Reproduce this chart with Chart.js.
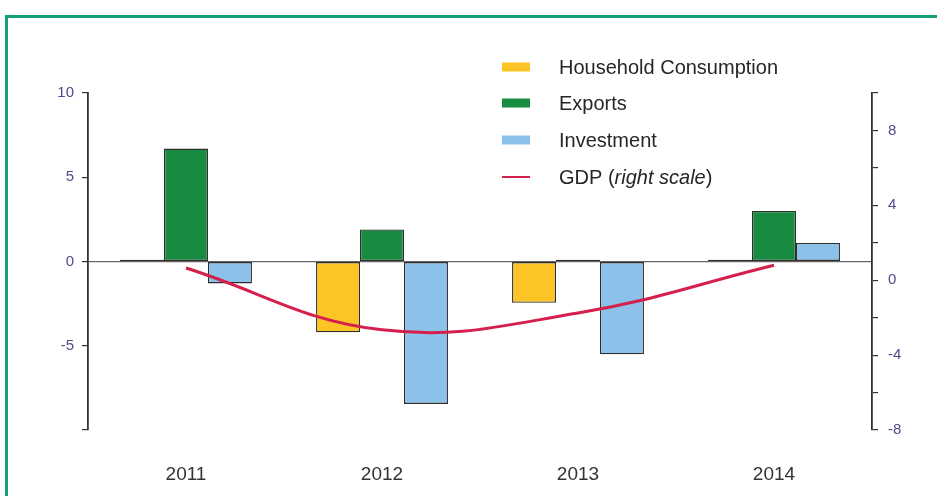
<!DOCTYPE html>
<html>
<head>
<meta charset="utf-8">
<script src="https://cdn.jsdelivr.net/npm/chart.js@4.4.1/dist/chart.umd.min.js"></script>
<style>
  html, body { margin: 0; padding: 0; background: #fff; overflow: hidden; }
  #wrap { position: relative; width: 937px; height: 496px; }
  #frame { position: absolute; left: 5px; top: 15px; width: 1000px; height: 600px;
           border: 3px solid #17a07d; box-sizing: border-box; }
  canvas { position: absolute; left: 0; top: 0; }
</style>
</head>
<body>
<div id="wrap">
  <div id="frame"></div>
  <canvas id="c" width="937" height="496"></canvas>
</div>
<script>
const categories = ['2011', '2012', '2013', '2014'];
const householdConsumption = [0.1, -4.2, -2.45, 0.1];
const exportsData = [6.7, 1.9, 0.1, 3.0];
const investment = [-1.3, -8.45, -5.5, 1.1];
const gdp = [0.65, -2.65, -1.75, 0.8];
const leftTickLabels = [10, 5, 0, -5];
const rightTickLabels = [8, 4, 0, -4, -8];

const seriesNames = ['Household Consumption', 'Exports', 'Investment', 'GDP'];
const colors = { household: '#fdc425', exports: '#178b3f', investment: '#8cc1e9', gdp: '#d51f4c' };

const FONT = "'Liberation Sans', Arial, sans-serif";
const tickColor = '#56478a';

const legendPlugin = {
  id: 'customLegend',
  afterDraw(chart) {
    const ctx = chart.ctx;
    ctx.save();
    const x0 = 502, xt = 559;
    const rows = [67, 103, 140, 177];
    const items = [
      { type: 'box', color: colors.household, text: [{t: 'Household Consumption'}] },
      { type: 'box', color: colors.exports, text: [{t: 'Exports'}] },
      { type: 'box', color: colors.investment, text: [{t: 'Investment'}] },
      { type: 'line', color: colors.gdp, text: [{t: 'GDP ('}, {t: 'right scale', i: true}, {t: ')'}] }
    ];
    ctx.textBaseline = 'middle';
    items.forEach((it, k) => {
      const y = rows[k];
      if (it.type === 'box') {
        ctx.fillStyle = it.color;
        ctx.fillRect(x0, y - 4.5, 28, 9);
      } else {
        ctx.strokeStyle = it.color;
        ctx.lineWidth = 2;
        ctx.beginPath(); ctx.moveTo(x0, y); ctx.lineTo(x0 + 28, y); ctx.stroke();
      }
      let x = xt;
      ctx.fillStyle = '#262626';
      it.text.forEach(part => {
        ctx.font = (part.i ? 'italic ' : '') + '20px ' + FONT;
        ctx.fillText(part.t, x, y + 1);
        x += ctx.measureText(part.t).width;
      });
    });
    ctx.restore();
  }
};

new Chart(document.getElementById('c'), {
  data: {
    labels: categories,
    datasets: [
      { type: 'line', label: seriesNames[3], data: gdp, yAxisID: 'y2', borderColor: colors.gdp,
        borderWidth: 3, pointRadius: 0, tension: 0.4, fill: false, order: 0 },
      { type: 'bar', label: seriesNames[0], data: householdConsumption, yAxisID: 'y',
        backgroundColor: colors.household, borderColor: '#2e2e2e', borderWidth: 1.3, borderSkipped: false, order: 1 },
      { type: 'bar', label: seriesNames[1], data: exportsData, yAxisID: 'y',
        backgroundColor: colors.exports, borderColor: '#2e2e2e', borderWidth: 1.3, borderSkipped: false, order: 1 },
      { type: 'bar', label: seriesNames[2], data: investment, yAxisID: 'y',
        backgroundColor: colors.investment, borderColor: '#2e2e2e', borderWidth: 1.3, borderSkipped: false, order: 1 }
    ]
  },
  options: {
    responsive: false,
    animation: false,
    layout: { padding: { top: 93, left: 0, right: 0, bottom: 0 } },
    datasets: { bar: { categoryPercentage: 0.673, barPercentage: 1.0 } },
    plugins: { legend: { display: false }, tooltip: { enabled: false } },
    scales: {
      x: {
        grid: { display: false },
        border: { display: false },
        ticks: { color: '#333', font: { family: FONT, size: 19 }, padding: 25 },
        afterFit(s) { s.height = 66; }
      },
      y: {
        position: 'left',
        min: -10, max: 10,
        afterBuildTicks(s) { s.ticks = [10, 5, 0, -5, -10].map(v => ({ value: v })); },
        ticks: {
          color: tickColor, font: { family: FONT, size: 15 }, padding: 8,
          callback: v => leftTickLabels.includes(v) ? String(v) : ''
        },
        grid: {
          drawOnChartArea: true,
          color: c => (c.tick && c.tick.value === 0) ? '#666' : 'rgba(0,0,0,0)',
          tickColor: '#333', tickLength: 6, lineWidth: 1.2
        },
        border: { display: true, color: '#333', width: 1.8 },
        afterFit(s) { s.width = 88; }
      },
      y2: {
        position: 'right',
        min: -8, max: 10,
        afterBuildTicks(s) { const t = []; for (let v = 10; v >= -8; v -= 2) t.push({ value: v }); s.ticks = t; },
        ticks: {
          color: tickColor, font: { family: FONT, size: 15 }, padding: 10,
          callback: v => rightTickLabels.includes(v) ? String(v) : ''
        },
        grid: { drawOnChartArea: false, color: '#333', tickColor: '#333', tickLength: 6, lineWidth: 1.2 },
        border: { display: true, color: '#333', width: 1.8 },
        afterFit(s) { s.width = 65; }
      }
    }
  },
  plugins: [legendPlugin]
});
</script>
</body>
</html>
